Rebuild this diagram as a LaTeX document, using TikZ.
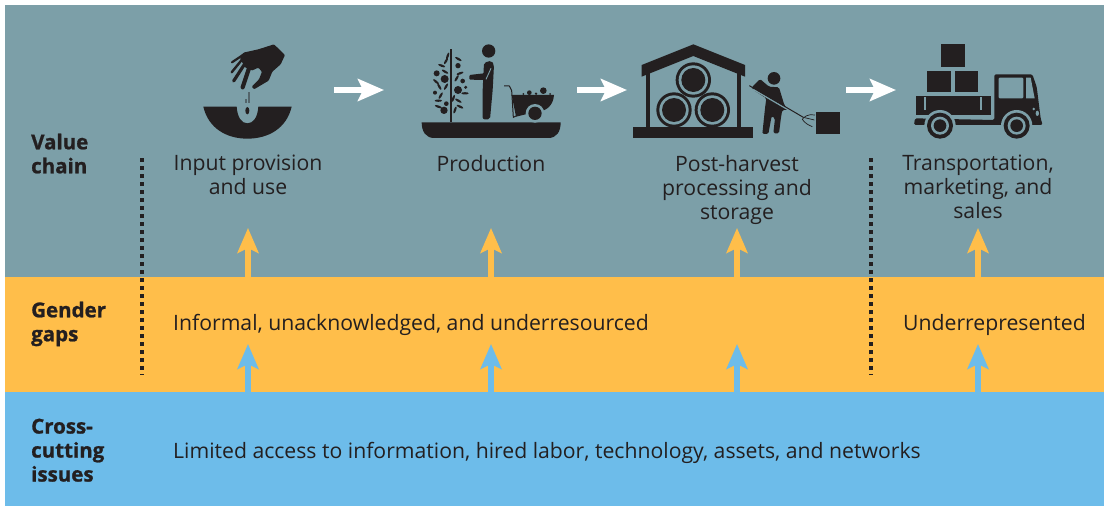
\documentclass[tikz,border=0pt]{standalone}
\usepackage{fontspec}
\setmainfont{Open Sans}[BoldFeatures={FakeBold=1}]
\usetikzlibrary{arrows.meta}
\definecolor{tealband}{HTML}{7C9FA8}
\definecolor{yellowband}{HTML}{FFBE4A}
\definecolor{blueband}{HTML}{6DBCEA}
\definecolor{ink}{HTML}{231F20}
\tikzset{
 x=1pt,y=-1pt,
 band/.style={fill=#1,draw=none},
 body/.style={font=\fontsize{21.2}{24}\selectfont,text=ink,inner sep=0pt,align=center},
 lefttext/.style={body,anchor=base west,align=left},
 heading/.style={font=\fontsize{20.5}{24}\selectfont\bfseries,text=ink,inner sep=0pt,align=left,anchor=north west},
 uparrow/.style={-{Stealth[length=25pt,width=21pt,inset=5pt]},line width=5.5pt,draw=#1},
 flowarrow/.style={-{Stealth[length=26pt,width=22pt,inset=5pt]},line width=5.5pt,draw=white},
 divider/.style={draw=ink,line width=3.2pt,dash pattern=on 4.2pt off 3.8pt},
 limb/.style={draw=ink,line cap=round,line join=round},
}
\begin{document}
\begin{tikzpicture}
\useasboundingbox (0,0) rectangle (1104,506);
\fill[white] (0,0) rectangle (1104,506);
\fill[band=tealband] (5,5) rectangle (1104,277);
\fill[band=yellowband] (5,277) rectangle (1104,392);
\fill[band=blueband] (5,392) rectangle (1104,506);

% --- input icon
\begin{scope}[shift={(190,30)},x=0.33333pt,y=-0.33333pt]
\fill[ink] (40,230) -- (140,230) .. controls (142,262) and (155,280) .. (172,280) .. controls (190,280) and (203,262) .. (205,230) -- (305,230) .. controls (290,295) and (235,326) .. (172,326) .. controls (110,326) and (55,295) .. (40,230) -- cycle;
\fill[ink] (172,242) ellipse [x radius=6,y radius=11];
\fill[ink!45!tealband] (175,185) rectangle (179,218);
\fill[ink!45!tealband] (166,206) rectangle (170,218);
\fill[ink,rounded corners=1pt] (252,43) -- (285,75) -- (272,103) -- (247,125) -- (236,152) -- (192,178) -- (185,170) -- (207,148) -- (216,125) -- (205,113) -- (185,122) -- (165,112) -- (150,85) -- (160,68) -- (205,58) -- cycle;
\draw[limb,line width=4.2pt] (178,112) -- (158,172);
\draw[limb,line width=3.2pt] (162,105) -- (131,153);
\draw[limb,line width=2.4pt] (155,90) -- (125,127);
\draw[limb,line width=2.2pt] (160,74) -- (126,97);
\end{scope}

% --- production icon
\begin{scope}[shift={(410,30)},x=0.33333pt,y=-0.33333pt]
\fill[ink] (35,277) -- (452,277) .. controls (452,305) and (440,324) .. (415,324) -- (72,324) .. controls (48,324) and (35,305) .. (35,277) -- cycle;
\draw[ink,line width=1.2pt] (123,58) -- (123,277);
\foreach \cx/\cy/\r in {80/130/9,104/147/12,144/107/8,158/153/7,144/180/12,75/188/6,109/221/7,102/241/11,167/172/5}
  \fill[ink] (\cx,\cy) circle [radius=\r];
\foreach \cx/\cy/\a in {95/107/-20,108/93/60,113/78/70,145/87/-30,105/125/-30,150/130/20,140/145/60,78/155/-40,88/170/-60,108/170/60,165/190/0,85/212/0,92/197/60,145/212/-30,150/230/-25,135/240/70,85/230/-20,130/205/70}
  \fill[ink,rotate around={\a:(\cx,\cy)}] (\cx,\cy) ellipse [x radius=11,y radius=3.5];
\fill[ink] (236,63) circle [radius=20];
\fill[ink,rounded corners=2pt] (222,98) -- (245,92) -- (252,105) -- (248,180) -- (240,268) -- (218,268) -- (218,180) -- cycle;
\fill[ink,rounded corners=1pt] (225,118) -- (222,130) -- (178,135) -- (178,149) -- (235,150) -- cycle;
\draw[tealband,line width=0.9pt] (243,115) -- (228,148);
\draw[ink,line width=1pt,line join=round] (282,168) -- (298,168) -- (305,182) -- (310,262) -- (335,250);
\fill[ink] (305,195) -- (432,195) .. controls (430,225) and (410,245) .. (380,245) -- (318,260) -- cycle;
\fill[tealband] (375,250) circle [radius=28];
\fill[ink] (375,250) circle [radius=20];
\draw[ink,line width=1.4pt] (345,236) .. controls (358,212) and (392,212) .. (405,236);
\foreach \cx/\cy/\r in {358/188/7,400/182/10,340/192/3,378/191/4,420/192/3}
  \fill[ink] (\cx,\cy) circle [radius=\r];
\end{scope}

% --- storage icon
\begin{scope}[shift={(625,30)},x=0.33333pt,y=-0.33333pt]
\fill[ink] (50,105) -- (205,43) -- (360,105) -- (360,140) -- (205,78) -- (50,140) -- cycle;
\fill[ink] (62,125) rectangle (75,295);
\fill[ink] (335,125) rectangle (348,295);
\fill[ink] (25,290) rectangle (385,324);
\foreach \cx/\cy in {205/150,147/240,262/240}{
  \fill[ink] (\cx,\cy) circle [radius=53];
  \fill[tealband] (\cx,\cy) circle [radius=44];
  \fill[ink] (\cx,\cy) circle [radius=36];
}
\fill[ink] (447,145) circle [radius=19];
\fill[ink,rounded corners=1.5pt] (405,147) -- (432,170) -- (462,172) -- (478,225) -- (490,240) -- (472,240) -- (468,262) -- (462,310) -- (445,310) -- (450,265) -- (440,258) -- (430,312) -- (412,312) -- (420,235) -- (424,205) -- (385,180) -- (380,172) -- cycle;
\draw[tealband,line width=1.6pt] (385,178) -- (500,245);
\draw[ink,line width=1pt] (373,167) -- (535,262);
\draw[ink,line width=0.7pt] (570,255) .. controls (550,250) and (535,262) .. (532,268) .. controls (540,280) and (550,285) .. (562,290);
\draw[ink,line width=0.7pt] (535,262) -- (568,270);
\fill[ink] (573,247) rectangle (645,313);
\end{scope}

% --- truck icon
\begin{scope}[shift={(840,30)},x=0.33333pt,y=-0.33333pt]
\fill[ink] (303,43) rectangle (375,110);
\fill[ink] (260,122) rectangle (332,187);
\fill[ink] (344,122) rectangle (415,187);
\fill[ink] (228,197) rectangle (452,255);
\fill[tealband] (251,202) rectangle (257,240);
\fill[tealband] (419,202) rectangle (425,240);
\fill[ink,rounded corners=1.5pt] (463,270) -- (463,133) -- (577,133) -- (590,170) -- (602,265) -- (608,285) -- (222,285) -- (225,265) -- cycle;
\fill[tealband,rounded corners=1pt] (476,143) rectangle (550,205);
\fill[tealband] (558,143) -- (572,143) -- (584,205) -- (558,205) -- cycle;
\fill[tealband] (452,255) rectangle (462,265);
\fill[tealband] (248,258) rectangle (452,264);
\fill[tealband] (581,237) circle [radius=4];
\fill[tealband] (592,250) ellipse [x radius=5,y radius=8];
\foreach \cx in {300,530}{
  \fill[tealband] (\cx,287) circle [radius=47];
  \fill[ink] (\cx,287) circle [radius=39];
  \fill[tealband] (\cx,287) circle [radius=27];
  \fill[ink] (\cx,287) circle [radius=19];
}
\end{scope}

% --- named points for connectors
\coordinate (f1a) at (334,90); \coordinate (f1b) at (384,90);
\coordinate (f2a) at (577,90); \coordinate (f2b) at (627,90);
\coordinate (f3a) at (846,90); \coordinate (f3b) at (896,90);
\draw[flowarrow] (f1a) -- (f1b);
\draw[flowarrow] (f2a) -- (f2b);
\draw[flowarrow] (f3a) -- (f3b);

\foreach \n/\x in {a/248,b/491,c/737,d/978}{
  \coordinate (y\n a) at (\x,277); \coordinate (y\n b) at (\x,228);
  \coordinate (b\n a) at (\x,392); \coordinate (b\n b) at (\x,344);
  \draw[uparrow=yellowband] (y\n a) -- (y\n b);
  \draw[uparrow=blueband] (b\n a) -- (b\n b);
}

\coordinate (d1a) at (142,158); \coordinate (d1b) at (142,375);
\coordinate (d2a) at (871,158); \coordinate (d2b) at (871,375);
\draw[divider] (d1a) -- (d1b);
\draw[divider] (d2a) -- (d2b);

% --- headings
\node[heading] (h1) at (31,133.5) {Value\\chain};
\node[heading] (h2) at (31,301.5) {Gender\\gaps};
\node[heading] (h3) at (31,418.5) {Cross-\\cutting\\issues};

% --- text
\node[body,anchor=north] (t1) at (248,155) {Input provision\\and use};
\node[body,anchor=north] (t2) at (491,155) {Production};
\node[body,anchor=north] (t3) at (737,155) {Post-harvest\\processing and\\storage};
\node[body,anchor=north] (t4) at (978,155) {Transportation,\\marketing, and\\sales};
\node[lefttext] (g1) at (173,330) {Informal, unacknowledged, and underresourced};
\node[lefttext] (g2) at (903,330) {Underrepresented};
\node[lefttext] (c1) at (173,458) {Limited access to information, hired labor, technology, assets, and networks};
\end{tikzpicture}
\end{document}
